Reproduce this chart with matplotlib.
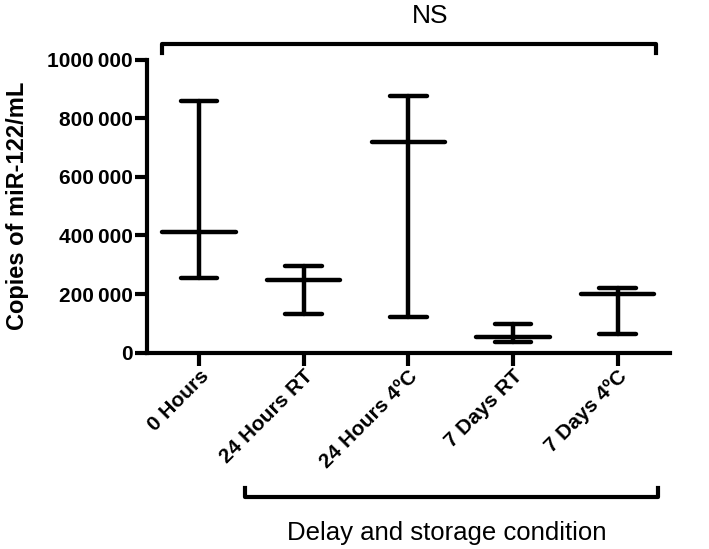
import matplotlib.pyplot as plt
import numpy as np

plt.rcParams['font.family'] = ['Liberation Sans', 'DejaVu Sans']

conditions = ['0 Hours', '24 Hours RT', '24 Hours 4ºC', '7 Days RT', '7 Days 4ºC']
means = [413000, 248000, 719000, 52000, 200000]
upper = [860000, 296000, 874000, 98000, 221000]
lower = [255000, 133000, 123000, 37000, 65000]

yticks = [0, 200000, 400000, 600000, 800000, 1000000]
ytick_labels = ['0', '200\u2009000', '400\u2009000', '600\u2009000', '800\u2009000', '1000\u2009000']

fig = plt.figure(figsize=(7.09, 5.49), dpi=100)
ax = fig.add_axes([0.207, 0.3576, 0.738, 0.534])

x = np.arange(len(conditions))
lw = 3.2
cap = 0.175
mw = 0.35
for xi, m, hi, lo in zip(x, means, upper, lower):
    ax.plot([xi, xi], [lo, hi], color='black', lw=lw, solid_capstyle='round')
    ax.plot([xi - cap, xi + cap], [hi, hi], color='black', lw=lw, solid_capstyle='round')
    ax.plot([xi - cap, xi + cap], [lo, lo], color='black', lw=lw, solid_capstyle='round')
    ax.plot([xi - mw, xi + mw], [m, m], color='black', lw=lw, solid_capstyle='round')

ax.set_xlim(-0.5, 4.5)
ax.set_ylim(0, 1000000)
ax.set_yticks(yticks)
ax.set_yticklabels(ytick_labels, fontsize=15, fontweight='bold')
ax.set_xticks(x)
ax.set_xticklabels(conditions, fontsize=15, fontweight='bold', rotation=45,
                   ha='right', va='top', rotation_mode='anchor')
ax.set_ylabel('Copies of miR-122/mL', fontsize=17, fontweight='bold', labelpad=13)

for s in ['top', 'right']:
    ax.spines[s].set_visible(False)
for s in ['left', 'bottom']:
    ax.spines[s].set_linewidth(3)
ax.tick_params(width=3, length=9, direction='out', pad=1)

# NS bracket on top
ax.plot([-0.357, -0.357, 4.37, 4.37], [1021000, 1054500, 1054500, 1021000],
        color='black', lw=3, clip_on=False)
ax.text(2.21, 1125000, 'NS', ha='center', va='baseline', fontsize=19)

# bracket under the tick labels
fig.lines.append(plt.Line2D([245 / 709, 245 / 709, 658 / 709, 658 / 709],
                            [1 - 488 / 549, 1 - 497 / 549, 1 - 497 / 549, 1 - 488 / 549],
                            color='black', lw=3, transform=fig.transFigure))
fig.text(447 / 709, 1 - 533 / 549, 'Delay and storage condition', ha='center', va='center',
         fontsize=18.5)

fig.savefig('out.png', dpi=100)
